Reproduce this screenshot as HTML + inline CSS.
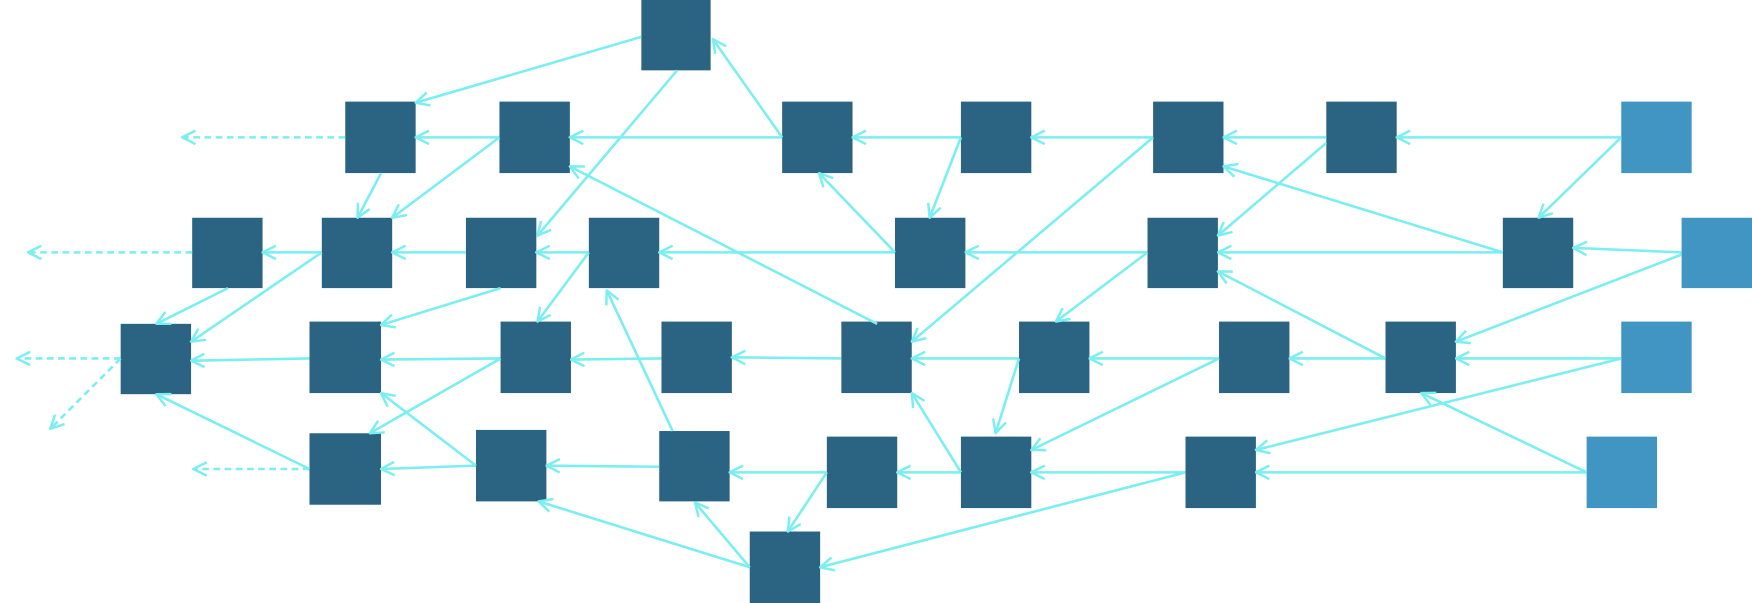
<!DOCTYPE html>
<html><head><style>html,body{margin:0;padding:0;background:#fff;width:1752px;height:603px;overflow:hidden}</style></head>
<body>
<svg width="1752" height="603" viewBox="0 0 1568 540" preserveAspectRatio="none" xmlns="http://www.w3.org/2000/svg">
<defs>
<marker id="a" viewBox="0 0 14 14" refX="13" refY="7" markerWidth="14" markerHeight="14" markerUnits="userSpaceOnUse" orient="auto">
<polyline points="1,1 13,7 1,13" fill="none" stroke="#7aeef0" stroke-width="2.2"/>
</marker>
</defs>
<g fill="#2a6482">
<rect x="574" y="0" width="62" height="63"/>
<rect x="309" y="91" width="63" height="64"/><rect x="447" y="91" width="63" height="64"/><rect x="700" y="91" width="63" height="64"/><rect x="860" y="91" width="63" height="64"/><rect x="1032" y="91" width="63" height="64"/><rect x="1187" y="91" width="63" height="64"/>
<rect x="172" y="195" width="63" height="63"/><rect x="288" y="195" width="63" height="63"/><rect x="417" y="195" width="63" height="63"/><rect x="527" y="195" width="63" height="63"/><rect x="801" y="195" width="63" height="63"/><rect x="1027" y="195" width="63" height="63"/><rect x="1345" y="195" width="63" height="63"/>
<rect x="108" y="290" width="63" height="63"/><rect x="277" y="288" width="64" height="64"/><rect x="448" y="288" width="63" height="64"/><rect x="592" y="288" width="63" height="64"/><rect x="753" y="288" width="63" height="64"/><rect x="912" y="288" width="63" height="64"/><rect x="1091" y="288" width="63" height="64"/><rect x="1240" y="288" width="63" height="64"/>
<rect x="277" y="388" width="64" height="64"/><rect x="426" y="385" width="63" height="64"/><rect x="590" y="386" width="63" height="63"/><rect x="740" y="391" width="63" height="64"/><rect x="860" y="391" width="63" height="64"/><rect x="1061" y="391" width="63" height="64"/>
<rect x="671" y="476" width="63" height="64"/>
</g>
<g fill="#4095c3">
<rect x="1451" y="91" width="63" height="64"/><rect x="1505" y="195" width="63" height="63"/><rect x="1451" y="288" width="63" height="64"/><rect x="1420" y="391" width="63" height="64"/>
</g>
<g stroke="#7aeef0" stroke-width="2.3" fill="none" marker-end="url(#a)">
<line x1="574" y1="33" x2="372" y2="92"/>
<line x1="606" y1="63" x2="481" y2="211"/>
<line x1="700" y1="123" x2="638" y2="35"/>
<line x1="447" y1="123" x2="372" y2="123"/>
<line x1="700" y1="123" x2="510" y2="123"/>
<line x1="860" y1="123" x2="763" y2="123"/>
<line x1="1032" y1="123" x2="923" y2="123"/>
<line x1="1187" y1="123" x2="1095" y2="123"/>
<line x1="1451" y1="123" x2="1250" y2="123"/>
<line x1="341" y1="155" x2="320" y2="195"/>
<line x1="447" y1="123" x2="351" y2="195"/>
<line x1="860" y1="123" x2="832" y2="195"/>
<line x1="1032" y1="123" x2="816" y2="306"/>
<line x1="1187" y1="128" x2="1090" y2="211"/>
<line x1="1451" y1="123" x2="1377" y2="195"/>
<line x1="1345" y1="226" x2="1095" y2="149"/>
<line x1="785" y1="290" x2="510" y2="149"/>
<line x1="801" y1="226" x2="733" y2="155"/>
<line x1="288" y1="226" x2="235" y2="226"/>
<line x1="417" y1="226" x2="351" y2="226"/>
<line x1="527" y1="226" x2="480" y2="226"/>
<line x1="801" y1="226" x2="590" y2="226"/>
<line x1="1027" y1="226" x2="864" y2="226"/>
<line x1="1345" y1="226" x2="1090" y2="226"/>
<line x1="1505" y1="226" x2="1408" y2="222"/>
<line x1="1505" y1="228" x2="1303" y2="306"/>
<line x1="204" y1="258" x2="140" y2="290"/>
<line x1="288" y1="226" x2="171" y2="306"/>
<line x1="448" y1="258" x2="341" y2="291"/>
<line x1="527" y1="226" x2="481" y2="288"/>
<line x1="1027" y1="226" x2="945" y2="288"/>
<line x1="1240" y1="321" x2="1090" y2="243"/>
<line x1="602" y1="386" x2="543" y2="260"/>
<line x1="277" y1="321" x2="171" y2="323"/>
<line x1="448" y1="321" x2="341" y2="322"/>
<line x1="592" y1="321" x2="511" y2="322"/>
<line x1="753" y1="321" x2="655" y2="320"/>
<line x1="912" y1="321" x2="816" y2="321"/>
<line x1="1091" y1="321" x2="975" y2="321"/>
<line x1="1240" y1="321" x2="1154" y2="321"/>
<line x1="1451" y1="321" x2="1303" y2="321"/>
<line x1="1451" y1="321" x2="1124" y2="403"/>
<line x1="448" y1="321" x2="331" y2="388"/>
<line x1="912" y1="321" x2="891" y2="388"/>
<line x1="1091" y1="321" x2="923" y2="403"/>
<line x1="1420" y1="423" x2="1272" y2="352"/>
<line x1="277" y1="420" x2="140" y2="353"/>
<line x1="426" y1="417" x2="341" y2="420"/>
<line x1="426" y1="417" x2="341" y2="352"/>
<line x1="590" y1="418" x2="489" y2="417"/>
<line x1="740" y1="423" x2="653" y2="423"/>
<line x1="860" y1="423" x2="803" y2="423"/>
<line x1="1061" y1="423" x2="923" y2="423"/>
<line x1="1420" y1="423" x2="1124" y2="423"/>
<line x1="860" y1="423" x2="816" y2="352"/>
<line x1="740" y1="423" x2="705" y2="476"/>
<line x1="671" y1="508" x2="482" y2="449"/>
<line x1="671" y1="508" x2="622" y2="450"/>
<line x1="1061" y1="423" x2="734" y2="508"/>
</g>
<g stroke="#7aeef0" stroke-width="2.3" fill="none" stroke-dasharray="6,4" marker-end="url(#a)">
<line x1="309" y1="123" x2="163" y2="123"/>
<line x1="172" y1="226" x2="25" y2="226"/>
<line x1="108" y1="321" x2="15" y2="321"/>
<line x1="108" y1="321" x2="45" y2="384"/>
<line x1="277" y1="420" x2="173" y2="420"/>
</g>
</svg>
</body></html>
